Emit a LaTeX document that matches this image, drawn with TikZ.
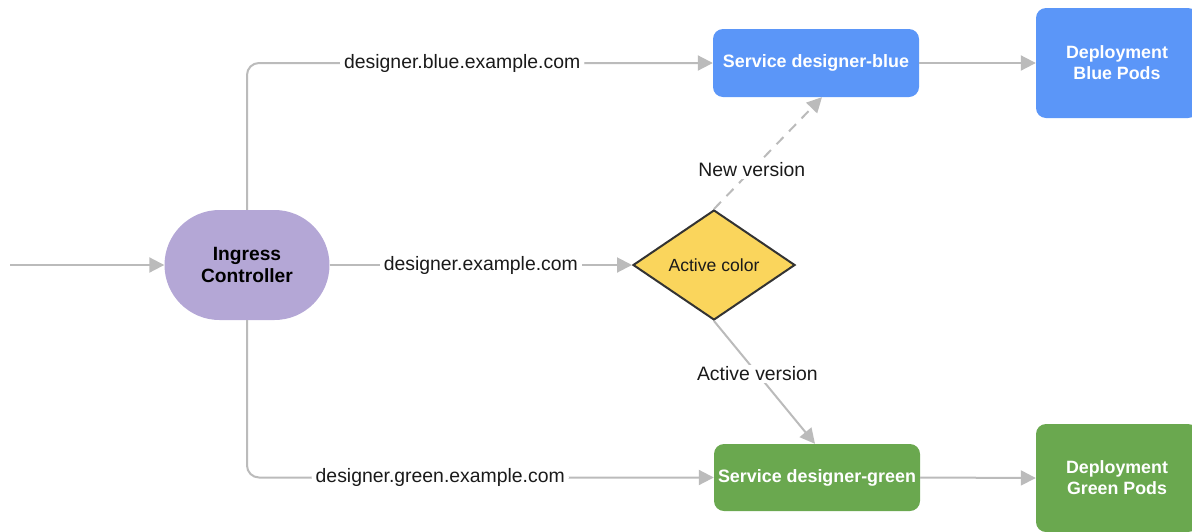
\documentclass[tikz,border=0pt]{standalone}
\usepackage{fontspec}
\setmainfont{Liberation Sans}
\usetikzlibrary{shapes.geometric,arrows.meta,calc}
\definecolor{linegray}{HTML}{BBBBBB}
\definecolor{txtdark}{HTML}{1A1A1A}
\definecolor{svcblue}{HTML}{5B96F8}
\definecolor{svcgreen}{HTML}{6AA84F}
\definecolor{lavender}{HTML}{B4A7D6}
\definecolor{gold}{HTML}{FAD55C}
\definecolor{rim}{HTML}{333333}
\begin{document}
\begin{tikzpicture}[x=1pt,y=-1pt,
  conn/.style={draw=linegray, line width=2pt},
  arr/.style={conn, -{Triangle[length=15pt,width=15pt,fill=linegray]}},
  lbl/.style={fill=white, text=txtdark, font=\fontsize{19.4}{22}\selectfont, inner xsep=4pt, inner ysep=2pt},
  svc/.style={rectangle, rounded corners=10pt, minimum width=206pt, minimum height=68pt,
    text=white, font=\bfseries\fontsize{17.9}{21}\selectfont},
  depbox/.style={rectangle, rounded corners=10pt, minimum width=162pt, minimum height=110pt,
    text=white, align=center, font=\bfseries\fontsize{17.8}{21}\selectfont},
]
\useasboundingbox (0,0) rectangle (1192,531);

% nodes
\node[rectangle, rounded corners=55pt, minimum width=165pt, minimum height=110pt,
  fill=lavender, align=center, font=\bfseries\fontsize{19.2}{22}\selectfont, text=black]
  (ing) at (247,265) {Ingress\\Controller};
\node[diamond, minimum width=162pt, minimum height=110pt, inner sep=0pt, fill=gold,
  draw=rim, line width=2pt, font=\fontsize{17.6}{20}\selectfont, text=txtdark]
  (dia) at (714,265) {Active color};
\node[svc, fill=svcblue] (svcb) at (816,63) {Service designer-blue};
\node[svc, fill=svcgreen, minimum height=67pt] (svcg) at (817,477.5) {Service designer-green};
\node[depbox, fill=svcblue] (depb) at (1117,63) {Deployment\\Blue Pods};
\node[depbox, fill=svcgreen, minimum height=108pt] (depg) at (1117,478) {Deployment\\Green Pods};
\coordinate (entry) at (10,265);

% connectors
\draw[arr] (entry) -- (ing.west);
\draw[arr, rounded corners=12pt] (ing.north) |- node[lbl, pos=0.731] {designer.blue.example.com} (svcb.west);
\draw[arr] (ing.east) -- node[lbl] {designer.example.com} (dia.west);
\draw[arr, rounded corners=12pt] (ing.south) |- node[lbl, pos=0.707] {designer.green.example.com} (svcg.west);
\draw[arr] (svcb.east) -- (depb.west);
\draw[arr] (svcg.east) -- (depg.west);
\draw[arr, dash pattern=on 10pt off 8pt] (dia.north) -- node[lbl, pos=0.35] {New version} ([xshift=6pt]svcb.south);
\draw[arr] (dia.south) -- node[lbl, pos=0.43] {Active version} ([xshift=-2pt]svcg.north);
\end{tikzpicture}
\end{document}
